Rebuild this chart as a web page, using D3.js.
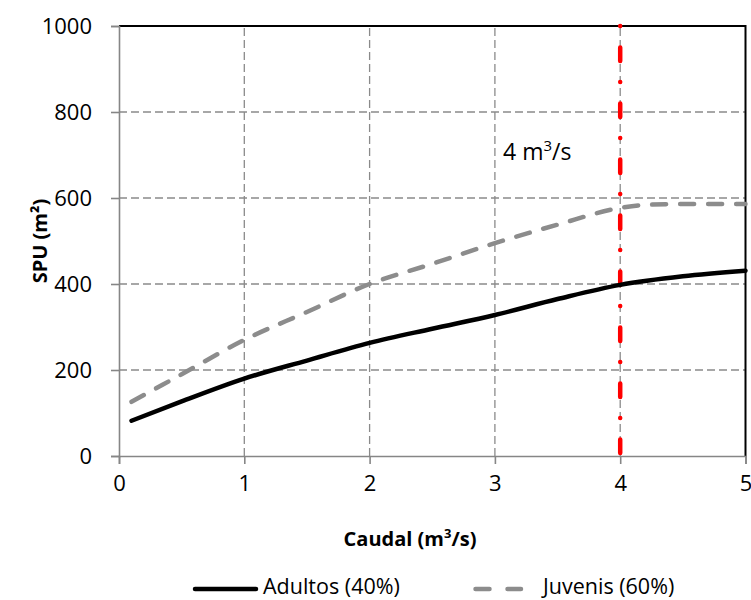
<!DOCTYPE html>
<html>
<head>
<meta charset="utf-8">
<script src="https://cdn.jsdelivr.net/npm/d3@7"></script>
<style>
  body { margin: 0; background: #fff; }
  text { font-family: "Open Sans", sans-serif; fill: #000; }
</style>
</head>
<body>
<div class="chart"></div>
<script>
// Data
const caudal = [0.1, 0.5, 1, 1.5, 2, 2.5, 3, 3.5, 4, 4.5, 5];
const adultos = [82, 127, 180, 222, 263, 296, 328, 365, 398, 418, 431];
const caudalJuv = [0.1, 0.5, 1, 1.5, 2, 2.5, 3, 3.5, 4, 4.2, 4.5, 5];
const juvenis = [126, 190, 270, 335, 400, 447, 495, 538, 577, 584, 586, 586];
const xTicks = [0, 1, 2, 3, 4, 5];
const yTicks = [0, 200, 400, 600, 800, 1000];
const caudalRef = 4;

const width = 751, height = 600;

const svg = d3.select(".chart")
    .append("svg")
    .attr("width", width)
    .attr("height", height);

// Scales
const x = d3.scaleLinear().domain([0, 5]).range([119, 745.5]);
const y = d3.scaleLinear().domain([0, 1000]).range([456, 26]);

// Grid lines
svg.append("g")
    .selectAll("line")
    .data(yTicks.slice(1, -1))
    .join("line")
    .attr("x1", x(0)).attr("x2", x(5))
    .attr("y1", d => y(d)).attr("y2", d => y(d))
    .attr("stroke", "#8a8a8a")
    .attr("stroke-width", 1.3)
    .attr("stroke-dasharray", "8 4");

svg.append("g")
    .selectAll("line")
    .data(xTicks.slice(1, -1))
    .join("line")
    .attr("x1", d => x(d)).attr("x2", d => x(d))
    .attr("y1", y(0)).attr("y2", y(1000))
    .attr("stroke", "#8a8a8a")
    .attr("stroke-width", 1.3)
    .attr("stroke-dasharray", "8 4");

// Plot border (top and right black)
svg.append("path")
    .attr("d", `M${x(0)},${y(1000)}H${x(5)}V${y(0)}`)
    .attr("fill", "none")
    .attr("stroke", "#000")
    .attr("stroke-width", 2);

// Axes
const xAxis = svg.append("g")
    .attr("transform", `translate(0,${y(0)})`)
    .call(d3.axisBottom(x).tickValues(xTicks).tickSize(8).tickPadding(11).tickFormat(d3.format("d")));

const yAxis = svg.append("g")
    .attr("transform", `translate(${x(0)},0)`)
    .call(d3.axisLeft(y).tickValues(yTicks).tickSize(8).tickPadding(19).tickFormat(d3.format("d")));

[xAxis, yAxis].forEach(a => {
    a.select(".domain").attr("stroke", "#868686").attr("stroke-width", 1.6);
    a.selectAll(".tick line").attr("stroke", "#868686").attr("stroke-width", 1.6);
    a.selectAll(".tick text")
        .style("font-family", "'Open Sans', sans-serif")
        .style("font-size", "22px")
        .attr("fill", "#000");
});

// Reference line at 4 m3/s
svg.append("line")
    .attr("x1", x(caudalRef)).attr("x2", x(caudalRef))
    .attr("y1", y(1000)).attr("y2", y(0))
    .attr("stroke", "#ff0000")
    .attr("stroke-width", 4.5)
    .attr("stroke-linecap", "round")
    .attr("stroke-dasharray", "0 21.5 13.5 21");

// Lines (smoothed like the original)
const line = d3.line()
    .curve(d3.curveMonotoneX)
    .x(d => x(d[0]))
    .y(d => y(d[1]));

svg.append("path")
    .datum(caudalJuv.map((c, i) => [c, juvenis[i]]))
    .attr("d", line)
    .attr("fill", "none")
    .attr("stroke", "#8c8c8c")
    .attr("stroke-width", 4.5)
    .attr("stroke-linecap", "round")
    .attr("stroke-dasharray", "14 14");

svg.append("path")
    .datum(caudal.map((c, i) => [c, adultos[i]]))
    .attr("d", line)
    .attr("fill", "none")
    .attr("stroke", "#000")
    .attr("stroke-width", 4.5)
    .attr("stroke-linecap", "round")
    .attr("stroke-linejoin", "round");

// Annotation
const ann = svg.append("text")
    .attr("x", 503)
    .attr("y", 160)
    .style("font-size", "23px");
ann.append("tspan").text("4 m");
ann.append("tspan").attr("dy", -9).style("font-size", "15px").text("3");
ann.append("tspan").attr("dy", 9).text("/s");

// Axis titles
const xTitle = svg.append("text")
    .attr("x", 410)
    .attr("y", 546)
    .attr("text-anchor", "middle")
    .style("font-size", "20px")
    .style("font-weight", "bold");
xTitle.append("tspan").text("Caudal (m");
xTitle.append("tspan").attr("dy", -8).style("font-size", "13px").text("3");
xTitle.append("tspan").attr("dy", 8).text("/s)");

svg.append("text")
    .attr("transform", `translate(47,${(y(0) + y(1000)) / 2}) rotate(-90)`)
    .attr("text-anchor", "middle")
    .style("font-size", "20px")
    .style("font-weight", "bold")
    .text("SPU (m²)");

// Legend
const legend = svg.append("g");
legend.append("line")
    .attr("x1", 195).attr("x2", 256)
    .attr("y1", 589).attr("y2", 589)
    .attr("stroke", "#000")
    .attr("stroke-width", 4.5)
    .attr("stroke-linecap", "round");
legend.append("text")
    .attr("x", 263).attr("y", 594)
    .style("font-size", "21.5px")
    .text("Adultos (40%)");
legend.append("line")
    .attr("x1", 475.5).attr("x2", 521)
    .attr("y1", 589).attr("y2", 589)
    .attr("stroke", "#8c8c8c")
    .attr("stroke-width", 4.5)
    .attr("stroke-linecap", "round")
    .attr("stroke-dasharray", "14 18");
legend.append("text")
    .attr("x", 543).attr("y", 594)
    .style("font-size", "21.5px")
    .text("Juvenis (60%)");
</script>
</body>
</html>
